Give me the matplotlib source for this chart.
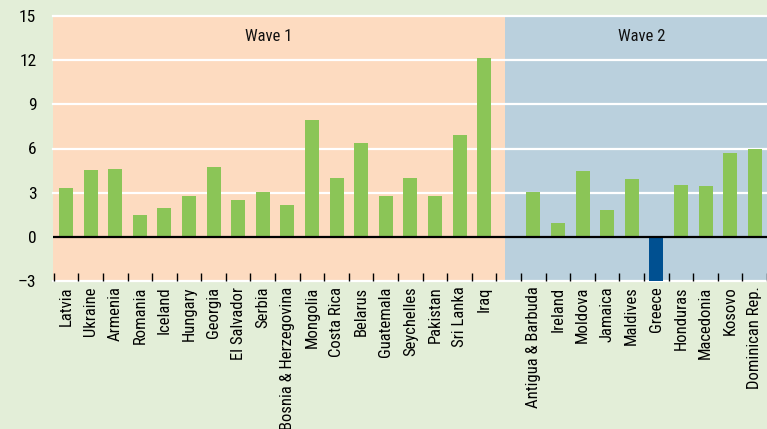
import numpy as np
import matplotlib
matplotlib.use("Agg")
import matplotlib.pyplot as plt

plt.rcParams['font.family'] = ['Roboto Condensed', 'DejaVu Sans']

# ---------------- DATA ----------------
wave1_countries = ["Latvia", "Ukraine", "Armenia", "Romania", "Iceland", "Hungary",
                   "Georgia", "El Salvador", "Serbia", "Bosnia & Herzegovina",
                   "Mongolia", "Costa Rica", "Belarus", "Guatemala", "Seychelles",
                   "Pakistan", "Sri Lanka", "Iraq"]
wave1_values = [3.35, 4.57, 4.64, 1.45, 1.99, 2.80, 4.77, 2.53, 3.07, 2.19,
                7.96, 4.03, 6.40, 2.74, 4.03, 2.74, 6.95, 12.17]

wave2_countries = ["Antigua & Barbuda", "Ireland", "Moldova", "Jamaica", "Maldives",
                   "Greece", "Honduras", "Macedonia", "Kosovo", "Dominican Rep."]
wave2_values = [3.07, 0.97, 4.50, 1.85, 3.96, -3.4, 3.55, 3.48, 5.72, 6.00]

wave_labels = ["Wave 1", "Wave 2"]
y_ticks = [-3, 0, 3, 6, 9, 12, 15]

# ---------------- COLOURS ----------------
bg = "#e3eed8"
peach = "#fddbc0"
blue_band = "#bad0dd"
green = "#8bc557"
dark_blue = "#005091"

# one empty slot between the two waves
labels = wave1_countries + [""] + wave2_countries
values = wave1_values + [np.nan] + wave2_values
x = np.arange(len(labels))
colors = [dark_blue if (not np.isnan(v) and v < 0) else green for v in values]

fig = plt.figure(figsize=(7.67, 4.29), dpi=100, facecolor=bg)
ax = fig.add_axes([53 / 767, 1 - 281 / 429, 1 - 53 / 767, 265 / 429])
ax.set_facecolor(bg)

split = 17.85
xmin, xmax = -0.53, 28.5
ax.axvspan(xmin, split, color=peach, zorder=0, lw=0)
ax.axvspan(split, xmax, color=blue_band, zorder=0, lw=0)

for yv in y_ticks:
    if yv != 0:
        ax.axhline(yv, color="white", lw=1.6, zorder=1, clip_on=False)

ax.bar(x, np.nan_to_num(values), width=0.57, color=colors, zorder=2)
ax.axhline(0, color="black", lw=1.6, zorder=3)

ax.set_xlim(xmin, xmax)
ax.set_ylim(-3, 15)

ax.text(8.25, 13.6, wave_labels[0], ha="center", va="center", fontsize=12, color="#111111")
ax.text(23.4, 13.6, wave_labels[1], ha="center", va="center", fontsize=12, color="#111111")

for s in ax.spines.values():
    s.set_visible(False)

ax.set_yticks(y_ticks)
ax.set_yticklabels([str(v).replace("-", "\u2013") for v in y_ticks], fontsize=12.5)
ax.tick_params(axis="y", length=0, pad=12)

ax.set_xticks(x)
ax.set_xticklabels(labels, rotation=90, fontsize=12)
ax.tick_params(axis="x", which="major", length=0, pad=4)
ax.set_xticks(np.arange(-0.5, 28.6, 1.0), minor=True)
ax.tick_params(axis="x", which="minor", direction="in", length=6, width=1, color="black")

fig.savefig("out.png", dpi=100, facecolor=bg)
